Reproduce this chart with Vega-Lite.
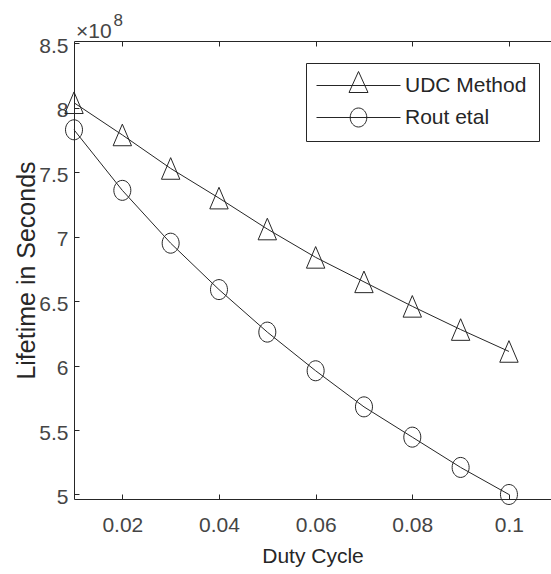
{
  "$schema": "https://vega.github.io/schema/vega-lite/v6.json",
  "width": 477,
  "height": 458,
  "autosize": "none",
  "padding": {"left": 74, "top": 41, "right": 0, "bottom": 75},
  "background": "white",
  "config": {"view": {"stroke": null}, "font": "Liberation Sans"},
  "title": {"text": "×10", "anchor": "start", "frame": "group", "orient": "top", "offset": 6, "dy": 54, "baseline": "alphabetic", "font": "Liberation Sans", "fontSize": 21, "fontWeight": "normal", "color": "#454545", "dx": 2},
  "data": {"values": [
    {"method": "UDC Method", "duty_cycle": 0.01, "lifetime": 804000000},
    {"method": "UDC Method", "duty_cycle": 0.02, "lifetime": 779000000},
    {"method": "UDC Method", "duty_cycle": 0.03, "lifetime": 753000000},
    {"method": "UDC Method", "duty_cycle": 0.04, "lifetime": 730000000},
    {"method": "UDC Method", "duty_cycle": 0.05, "lifetime": 706000000},
    {"method": "UDC Method", "duty_cycle": 0.06, "lifetime": 684000000},
    {"method": "UDC Method", "duty_cycle": 0.07, "lifetime": 665000000},
    {"method": "UDC Method", "duty_cycle": 0.08, "lifetime": 646000000},
    {"method": "UDC Method", "duty_cycle": 0.09, "lifetime": 628000000},
    {"method": "UDC Method", "duty_cycle": 0.1, "lifetime": 611000000},
    {"method": "Rout etal", "duty_cycle": 0.01, "lifetime": 783000000},
    {"method": "Rout etal", "duty_cycle": 0.02, "lifetime": 736000000},
    {"method": "Rout etal", "duty_cycle": 0.03, "lifetime": 695000000},
    {"method": "Rout etal", "duty_cycle": 0.04, "lifetime": 659000000},
    {"method": "Rout etal", "duty_cycle": 0.05, "lifetime": 626000000},
    {"method": "Rout etal", "duty_cycle": 0.06, "lifetime": 596000000},
    {"method": "Rout etal", "duty_cycle": 0.07, "lifetime": 568000000},
    {"method": "Rout etal", "duty_cycle": 0.08, "lifetime": 544500000},
    {"method": "Rout etal", "duty_cycle": 0.09, "lifetime": 521000000},
    {"method": "Rout etal", "duty_cycle": 0.1, "lifetime": 500000000}
  ]},
  "layer": [
    {
      "mark": {"type": "line", "stroke": "#262626", "strokeWidth": 1},
      "encoding": {
        "x": {"field": "duty_cycle", "type": "quantitative",
          "scale": {"domain": [0.01, 0.1087], "nice": false, "zero": false},
          "axis": {"orient": "bottom", "values": [0.02, 0.04, 0.06, 0.08, 0.1], "format": ".2~f", "grid": false,
            "domainColor": "#262626", "domainWidth": 1, "tickColor": "#262626", "tickWidth": 1, "tickSize": -5,
            "labelFont": "Liberation Sans", "labelFontSize": 21, "labelColor": "#454545", "labelPadding": 20,
            "title": "Duty Cycle", "titleFont": "Liberation Sans", "titleFontSize": 21, "titleFontWeight": "normal", "titleColor": "#262626", "titlePadding": 10}},
        "y": {"field": "lifetime", "type": "quantitative",
          "scale": {"domain": [496500000, 851900000], "nice": false, "zero": false},
          "axis": {"orient": "left", "values": [500000000, 550000000, 600000000, 650000000, 700000000, 750000000, 800000000, 850000000],
            "labelExpr": "format(datum.value / 1e8, '~g')", "grid": false, "labelOffset": 3,
            "domainColor": "#262626", "domainWidth": 1, "tickColor": "#262626", "tickWidth": 1, "tickSize": -5,
            "labelFont": "Liberation Sans", "labelFontSize": 21, "labelColor": "#454545", "labelPadding": 11,
            "title": "Lifetime in Seconds", "titleFont": "Liberation Sans", "titleFontSize": 25, "titleFontWeight": "normal", "titleColor": "#262626", "titlePadding": 4, "titleBaseline": "alphabetic"}},
        "detail": {"field": "method"}
      }
    },
    {
      "transform": [{"filter": "datum.method === 'UDC Method'"}],
      "mark": {"type": "point", "filled": false, "strokeWidth": 1, "size": 400, "opacity": 1, "shape": "M0,-1.08L-0.92,1.08L0.92,1.08Z"},
      "encoding": {
        "x": {"field": "duty_cycle", "type": "quantitative",
          "axis": {"orient": "top", "values": [0.02, 0.04, 0.06, 0.08, 0.1], "labels": false, "grid": false,
            "domainColor": "#262626", "domainWidth": 1, "tickColor": "#262626", "tickWidth": 1, "tickSize": -5,
            "title": "8", "titleFont": "Liberation Sans", "titleFontSize": 17, "titleFontWeight": "normal", "titleColor": "#454545",
            "titleX": 39, "titleY": -16, "titleAlign": "left", "titleBaseline": "alphabetic", "titleAngle": 0}},
        "y": {"field": "lifetime", "type": "quantitative"},
        "color": {"field": "method", "type": "nominal",
          "scale": {"domain": ["UDC Method", "Rout etal"], "range": ["#262626", "#262626"]},
          "legend": {"orient": "none", "legendX": 232, "legendY": 22, "title": null, "padding": 12,
            "strokeColor": "#262626", "fillColor": "white", "rowPadding": 10,
            "labelFont": "Liberation Sans", "labelFontSize": 21, "labelColor": "#262626", "labelOffset": 36,
            "symbolSize": 400, "symbolStrokeWidth": 1, "symbolFillColor": "transparent", "symbolOffset": 30,
            "symbolType": {"expr": "datum.value === 'UDC Method' ? 'M-4.2,0H4.2M0,-1.4L-0.95,0.7L0.95,0.7Z' : 'M-4.2,0H4.2M0.83,0A0.83,0.95,0,1,1,-0.83,0A0.83,0.95,0,1,1,0.83,0Z'"},
            "encode": {"labels": {"dy": {"value": 4}}}}}
      }
    },
    {
      "transform": [{"filter": "datum.method === 'Rout etal'"}],
      "mark": {"type": "point", "filled": false, "strokeWidth": 1, "size": 400, "opacity": 1, "shape": "M0.85,0A0.85,1,0,1,1,-0.85,0A0.85,1,0,1,1,0.85,0Z"},
      "encoding": {
        "x": {"field": "duty_cycle", "type": "quantitative", "axis": null},
        "y": {"field": "lifetime", "type": "quantitative"},
        "color": {"field": "method", "type": "nominal"}
      }
    }
  ],
  "resolve": {"axis": {"x": "independent"}}
}
